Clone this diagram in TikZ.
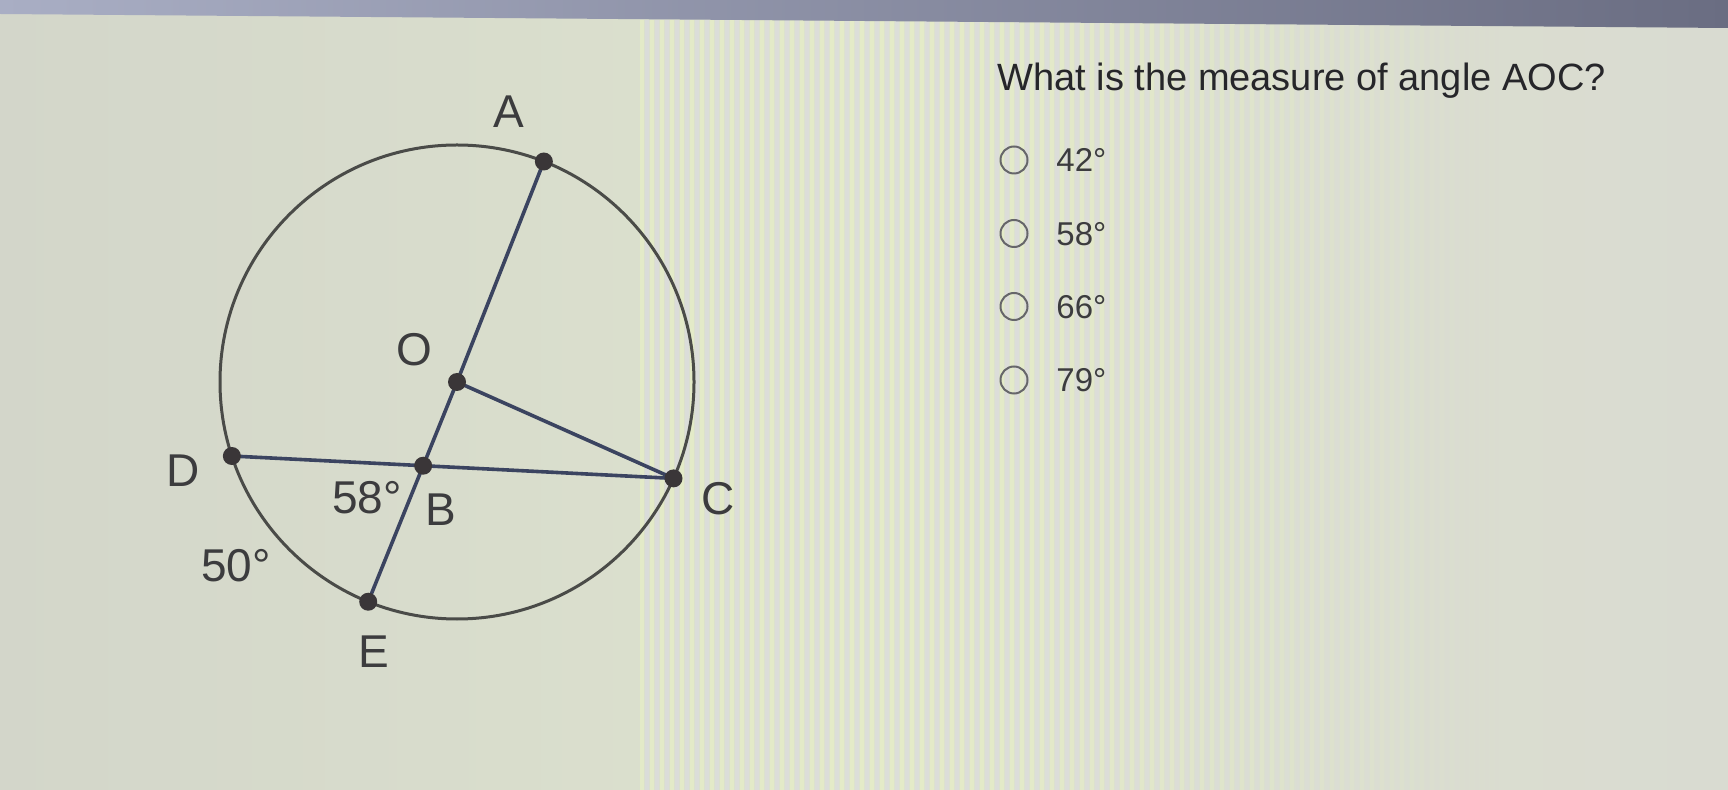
\documentclass[tikz,border=0pt]{standalone}
\usepackage{fontspec}
\setmainfont{Liberation Sans}
\usetikzlibrary{calc,intersections}
\definecolor{bgleft}{HTML}{D3D6CA}
\definecolor{bgmid}{HTML}{DDE2CE}
\definecolor{bgright}{HTML}{D9DBD1}
\definecolor{stripeg}{HTML}{E8F0C6}
\definecolor{stripel}{HTML}{DCDAE8}
\definecolor{bandl}{HTML}{A9AEC4}
\definecolor{bandr}{HTML}{6A6D82}
\definecolor{circcol}{HTML}{4A4B48}
\definecolor{chordcol}{HTML}{3B4460}
\definecolor{dotcol}{HTML}{3A3638}
\definecolor{labelgray}{HTML}{3C3C3E}
\definecolor{qtext}{HTML}{26262A}
\definecolor{radiocol}{HTML}{66666A}
\begin{document}
\begin{tikzpicture}[x=0.5pt,y=-0.5pt,
  lbl/.style={inner sep=0pt, text=labelgray, font=\fontsize{23}{27}\selectfont},
  question/.style={inner sep=0pt, anchor=base west, text=qtext, font=\fontsize{19}{23}\selectfont},
  option/.style={inner sep=0pt, anchor=base west, text=labelgray, font=\fontsize{16.5}{20}\selectfont},
  radio/.style={circle, draw=radiocol, line width=1pt, minimum size=13.5pt, inner sep=0pt},
  dotnode/.style={circle, fill=dotcol, minimum size=9pt, inner sep=0pt},
  chord/.style={draw=chordcol, line width=1.8pt},
  rim/.style={draw=circcol, line width=1.5pt}]
\useasboundingbox (0,0) rectangle (1728,790);
% background
\shade[left color=bgleft, right color=bgright, middle color=bgmid] (0,0) rectangle (1728,790);
\foreach \sx in {640,650,...,1500}{
  \pgfmathsetmacro{\op}{\sx<1000 ? 0.65 : max(0,0.65*(1500-\sx)/500)}
  \fill[stripeg, opacity=\op] (\sx,20) rectangle ++(4,770);
  \fill[stripel, opacity=0.7*\op] (\sx+5,20) rectangle ++(4,770);
}
\shade[left color=bandl, right color=bandr] (0,0) -- (1728,0) -- (1728,28) -- (0,14) -- cycle;

% geometry
\coordinate (O) at (457,382);
\coordinate (A) at ($(O)+(-68.5:237)$);
\coordinate (E) at ($(O)+(112:237)$);
\coordinate (D) at ($(O)+(161.8:237)$);
\coordinate (C) at ($(O)+(24:237)$);
\draw[rim] (O) circle[radius=118.5pt];
\path[name path=oe] (O) -- (E);
\path[name path=dc] (D) -- (C);
\path[name intersections={of=oe and dc, by=B}];
\draw[chord] (A) -- (O) -- (E);
\draw[chord] (D) -- (C);
\draw[chord] (O) -- (C);
\foreach \p in {A,O,B,C,D,E}{ \node[dotnode] (dot\p) at (\p) {}; }

% labels
\node[lbl] (labA) at (509,112) {A};
\node[lbl] (labO) at (414,350) {O};
\node[lbl] (labD) at (183,471) {D};
\node[lbl] (labB) at (441,510) {B};
\node[lbl] (labC) at (718,499) {C};
\node[lbl] (labE) at (374,652) {E};
\node[lbl] (ang58) at (367,498) {58°};
\node[lbl] (arc50) at (236,566) {50°};

% question
\node[question] (q) at (997,91) {What is the measure of angle AOC?};
\foreach \i/\yy/\t in {1/160/42,2/233.5/58,3/306.5/66,4/380/79}{
  \node[radio] (r\i) at (1014,\yy) {};
  \node[option] (o\i) at (1056,\yy+12) {\t°};
}
\end{tikzpicture}
\end{document}
